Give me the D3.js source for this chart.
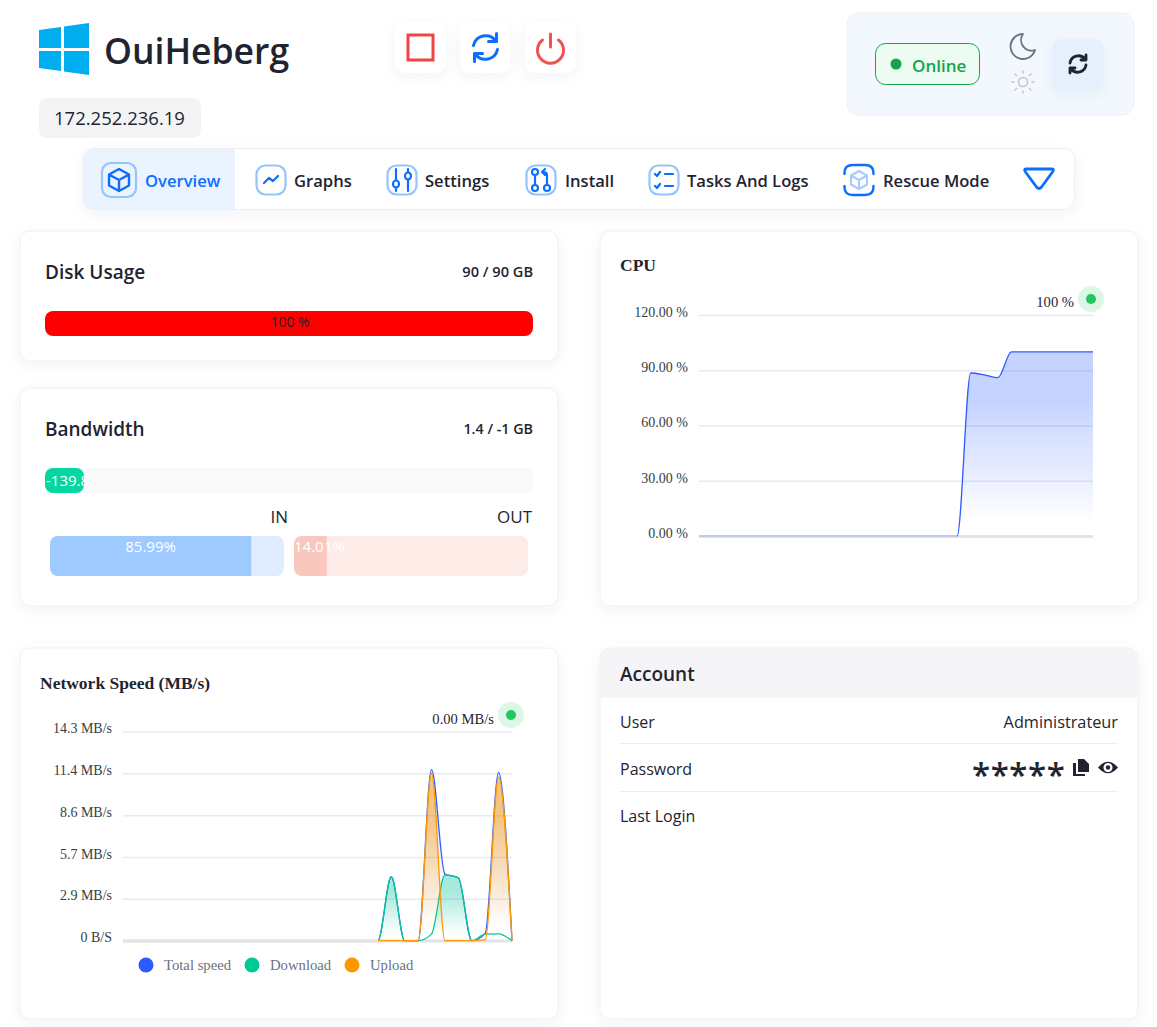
<!DOCTYPE html>
<html>
<head>
<meta charset="utf-8">
<style>
  html, body { margin: 0; padding: 0; background: #fff; }
  svg { display: block; }
  text { font-family: 'Open Sans', 'Noto Sans', sans-serif; fill: #1f2430; }
  .serif { font-family: 'Liberation Serif', serif; }
  .grid line { stroke: #e8eaef; stroke-width: 1.5px; }
  .grid text { font-family: 'Liberation Serif', serif; font-size: 14px; fill: #373d3f; }
  .grid .domain { display: none; }
  .ico { fill: none; stroke-linecap: round; stroke-linejoin: round; }
</style>
</head>
<body>
<script src="https://d3js.org/d3.v7.min.js"></script>
<script>
// chart values
var cpuValues = [0,0,0,0,0,0,0,0,0,0,0,0,0,0,0,0,0,0,0,0,88.5,87.5,86,100,100,100,100,100,100,100];
var cpuTicks = [0,30,60,90,120];
var cpuLabels = ["0.00 %","30.00 %","60.00 %","90.00 %","120.00 %"];

var netTotal    = [0,0,0,0,0,0,0,0,0,0,0,0,0,0,0,0,0,0,0,0,4.37,0,0,11.7,4.55,4.3,0,0.5,11.5,0];
var netDownload = [0,0,0,0,0,0,0,0,0,0,0,0,0,0,0,0,0,0,0,0,4.37,0,0,0.45,4.5,4.3,0,0.45,0.47,0];
var netUpload   = [0,0,0,0,0,0,0,0,0,0,0,0,0,0,0,0,0,0,0,0,0,0,0,11.45,0,0,0,0.05,11.2,0];
var netTicks = [0,2.86,5.72,8.58,11.44,14.3];
var netLabels = ["0 B/S","2.9 MB/s","5.7 MB/s","8.6 MB/s","11.4 MB/s","14.3 MB/s"];
var netNames = ["Total speed","Download","Upload"];
var netColors = ["#2b5cff","#00c896","#ff9800"];

var navNames = ["Overview","Graphs","Settings","Install","Tasks And Logs","Rescue Mode"];
var inShare = 85.99, outShare = 14.01;

var svg = d3.select("body").append("svg").attr("width", 1157).attr("height", 1027);
var defs = svg.append("defs");

var shadow = defs.append("filter").attr("id", "soft").attr("x", "-20%").attr("y", "-20%").attr("width", "140%").attr("height", "150%");
shadow.append("feDropShadow").attr("dx", 0).attr("dy", 4).attr("stdDeviation", 7).attr("flood-color", "#1e3a8a").attr("flood-opacity", 0.05);

function gradient(id, color, top) {
  var g = defs.append("linearGradient").attr("id", id).attr("x1", 0).attr("y1", 0).attr("x2", 0).attr("y2", 1);
  g.append("stop").attr("offset", "0%").attr("stop-color", color).attr("stop-opacity", top);
  g.append("stop").attr("offset", "27%").attr("stop-color", color).attr("stop-opacity", top);
  g.append("stop").attr("offset", "92%").attr("stop-color", color).attr("stop-opacity", 0);
}
gradient("gradCpu", "#2b5cff", 0.27);
gradient("gradTotal", "#2b5cff", 0.1);
gradient("gradDown", "#00c896", 0.32);
gradient("gradUp", "#ff9800", 0.48);

function card(x, y, w, h) {
  return svg.append("rect").attr("x", x).attr("y", y).attr("width", w).attr("height", h).attr("rx", 10)
    .attr("fill", "#fff").attr("stroke", "#eceff4").attr("filter", "url(#soft)");
}
function label(str, x, y, size, weight, color, anchor) {
  return svg.append("text").attr("x", x).attr("y", y).attr("font-size", size).attr("font-weight", weight || 400)
    .style("fill", color || "#1f2430").attr("text-anchor", anchor || "start").text(str);
}
function box(x, y, w, h, r, fill) {
  return svg.append("rect").attr("x", x).attr("y", y).attr("width", w).attr("height", h).attr("rx", r).attr("fill", fill);
}
function icon(d, tx, ty, color, width) {
  return svg.append("path").attr("class", "ico").attr("d", d).attr("transform", "translate(" + tx + "," + ty + ")")
    .attr("stroke", color).attr("stroke-width", width);
}

// header
var logo = ["M0,6 L22,3 L22,24 L0,24Z","M25,2.6 L50,-1 L50,24 L25,24Z","M0,27 L22,27 L22,47 L0,44Z","M25,27 L50,27 L50,51 L25,47.5Z"];
logo.forEach(function (d) {
  svg.append("path").attr("d", d).attr("transform", "translate(39,24)").attr("fill", "#00adef");
});
label("OuiHeberg", 104, 64, 35.5, 600, "#1f2430");
box(39, 98, 162, 40, 8, "#f3f4f6");
label("172.252.236.19", 54, 125, 18.5);

[395, 460, 525].forEach(function (x) {
  box(x, 22, 51, 51, 11, "#fff").attr("filter", "url(#soft)");
});
svg.append("rect").attr("x", 408).attr("y", 35).attr("width", 25).attr("height", 25).attr("fill", "none").attr("stroke", "#ef4444").attr("stroke-width", 3);
var syncPath = "M-12,-2 A12.5,12.5 0 0 1 10,-7 M12,2 A12.5,12.5 0 0 1 -10,7 M11,-14 L11,-6 L3,-6 M-11,14 L-11,6 L-3,6";
icon(syncPath, 485.5, 47.5, "#0d6efd", 3);
icon("M-8,-9 A13,13 0 1 0 8,-9 M0,-15 L0,-2", 550.5, 49, "#ef5350", 3);

// status box
box(847, 13, 287, 102, 12, "#f3f8fe").attr("stroke", "#ecf1f8");
svg.append("rect").attr("x", 875.5).attr("y", 43.5).attr("width", 104).attr("height", 41).attr("rx", 10).attr("fill", "#edfcf2").attr("stroke", "#16a34a");
svg.append("circle").attr("cx", 896).attr("cy", 64).attr("r", 5.5).attr("fill", "#16a34a");
label("Online", 912, 72, 17, 600, "#16a34a");
icon("M0,-12.5 A12.5,12.5 0 1 0 12,3.5 A10.5,10.5 0 0 1 0,-12.5Z", 1023, 46.5, "#6b7280", 1.8);
icon("M-4.5,0 a4.5,4.5 0 1 0 9,0 a4.5,4.5 0 1 0 -9,0 M0,-11 L0,-9 M0,9 L0,11 M-11,0 L-9,0 M9,0 L11,0 M-8,-8 L-6.5,-6.5 M6.5,6.5 L8,8 M-8,8 L-6.5,6.5 M6.5,-6.5 L8,-8", 1023, 82, "#c2c5cc", 1.5);
box(1052, 39, 52, 52, 10, "#e6effc").attr("filter", "url(#soft)");
icon("M-8,-1 A8.5,8.5 0 0 1 7,-5 M8,1 A8.5,8.5 0 0 1 -7,5 M8,-9 L8,-4 L3,-4 M-8,9 L-8,4 L-3,4", 1078, 64, "#1f2430", 2.8);

// nav bar
card(83.5, 148.5, 991, 61);
svg.append("path").attr("d", "M94,149 H235 V209 H94 Q84,209 84,199 V159 Q84,149 94,149Z").attr("fill", "#ebf3fe");
var navTextX = [145, 294, 425, 565, 687, 883];
var navIconX = [119, 271, 402, 541, 664, 859];
navNames.forEach(function (name, i) {
  label(name, navTextX[i], 187, 16.6, 600, i == 0 ? "#0d6efd" : "#1f2430");
  if (i == 5) return;
  var s = i == 0 ? 34 : 29;
  svg.append("rect").attr("x", navIconX[i] - s / 2).attr("y", 180 - s / 2).attr("width", s).attr("height", s).attr("rx", 9)
    .attr("fill", "none").attr("stroke", "#93c5fd").attr("stroke-width", 2.2);
});
// rescue mode box only has its top and bottom brackets
icon("M-14.5,-6 V-7 Q-14.5,-15 -6,-15 H6 Q14.5,-15 14.5,-7 V-6 M-14.5,6 V7 Q-14.5,15 -6,15 H6 Q14.5,15 14.5,7 V6", 859, 180, "#0d6efd", 2.4);
var cube = "M0,-11 L10,-5.5 L10,5.5 L0,11 L-10,5.5 L-10,-5.5Z M-10,-5.5 L0,0 L10,-5.5 M0,0 L0,11";
icon(cube, 119, 180, "#0d6efd", 2.4);
icon("M-7,3 L-2,-2 L2,1 L7,-4", 271, 180, "#0d6efd", 2.2);
icon("M-6,-11 L-6,0 M-6,8 L-6,11 M6,-11 L6,-8 M6,0 L6,11 M-9,4 a3,3.5 0 1 0 6,0 a3,3.5 0 1 0 -6,0 M3,-4 a3,3.5 0 1 0 6,0 a3,3.5 0 1 0 -6,0", 402, 180, "#0d6efd", 2.2);
icon("M-6,-5 L-6,5 M-9,-8 a3,3 0 1 0 6,0 a3,3 0 1 0 -6,0 M-9,8 a3,3 0 1 0 6,0 a3,3 0 1 0 -6,0 M3,8 a3,3 0 1 0 6,0 a3,3 0 1 0 -6,0 M6,5 L6,-5 Q6,-8 2,-8 M4,-11 L1,-8 L4,-5", 541, 180, "#0d6efd", 2.2);
icon("M-9,-6 L-7,-4 L-4,-8 M-9,6 L-7,8 L-4,4 M1,-6 L9,-6 M1,6 L9,6", 664, 180, "#0d6efd", 2.2);
icon("M0,-9 L8,-4.5 L8,4.5 L0,9 L-8,4.5 L-8,-4.5Z M-8,-4.5 L0,0 L8,-4.5 M0,0 L0,9", 859, 180, "#a9cdfb", 2.2);
icon("M-13,-10 L13,-10 Q15.5,-10 13.5,-7 L2.5,8 Q0,11 -2.5,8 L-13.5,-7 Q-15.5,-10 -13,-10Z", 1039, 179, "#0d6efd", 2.8);

// disk usage
card(20, 231, 538, 130);
label("Disk Usage", 45, 279, 19, 600);
label("90 / 90 GB", 533, 277, 14.6, 600, "#1f2430", "end");
box(45, 311, 488, 25, 8, "#ff0000");
label("100 %", 290, 327, 14, 400, "#212529", "middle");

// bandwidth
card(20, 388, 538, 218);
label("Bandwidth", 45, 436, 19, 600);
label("1.4 / -1 GB", 533, 434, 14.3, 600, "#1f2430", "end");
box(45, 468, 488, 25, 8, "#f8f9fa");
box(45, 468, 39, 25, 8, "#06d6a0");
label("-139.87", 46, 486, 15, 400, "#fff");
label("IN", 288, 523, 17, 400, "#1f2430", "end");
label("OUT", 532, 523, 17, 400, "#1f2430", "end");

var shareX = d3.scaleLinear().domain([0, 100]).range([0, 234]);
defs.append("clipPath").attr("id", "inClip").append("rect").attr("x", 50).attr("y", 536).attr("width", 234).attr("height", 40).attr("rx", 8);
defs.append("clipPath").attr("id", "outClip").append("rect").attr("x", 294).attr("y", 536).attr("width", 234).attr("height", 40).attr("rx", 8);
box(50, 536, 234, 40, 8, "#e0ecff");
svg.append("rect").attr("clip-path", "url(#inClip)").attr("x", 50).attr("y", 536).attr("width", shareX(inShare)).attr("height", 40).attr("fill", "#9fcaff");
label(inShare + "%", 50 + shareX(inShare) / 2, 552, 15, 400, "#fff", "middle");
box(294, 536, 234, 40, 8, "#fcebe7");
svg.append("rect").attr("clip-path", "url(#outClip)").attr("x", 294).attr("y", 536).attr("width", shareX(outShare)).attr("height", 40).attr("fill", "#f9c7bd");
label(outShare + "%", 294, 552, 15, 400, "#fff");

// line charts
function axisY(y, left, width, ticks, labels, dy) {
  var g = svg.append("g").attr("class", "grid").attr("transform", "translate(" + left + ",0)")
    .call(d3.axisLeft(y).tickValues(ticks).tickSize(-width).tickPadding(11)
      .tickFormat(function (d, i) { return labels[i]; }));
  g.selectAll("text").attr("dy", dy);
  return g;
}
function series(x, y, values, color, fill, strokeW) {
  var area = d3.area().curve(d3.curveMonotoneX).x(function (d, i) { return x(i); }).y0(y(0)).y1(function (d) { return y(d); });
  var line = d3.line().curve(d3.curveMonotoneX).x(function (d, i) { return x(i); }).y(function (d) { return y(d); });
  svg.append("path").attr("d", area(values)).attr("fill", "url(#" + fill + ")");
  svg.append("path").attr("d", line(values)).attr("fill", "none").attr("stroke", color).attr("stroke-width", strokeW);
}
function baseline(x0, x1, y, opacity) {
  svg.append("line").attr("x1", x0).attr("x2", x1).attr("y1", y).attr("y2", y).attr("stroke", "#e3e4e8").attr("stroke-width", 3).attr("opacity", opacity);
}
function liveDot(x, y) {
  svg.append("circle").attr("cx", x).attr("cy", y).attr("r", 13).attr("fill", "#dcf7e5");
  svg.append("circle").attr("cx", x).attr("cy", y).attr("r", 5).attr("fill", "#22c55e");
}

// cpu
card(600, 231, 538, 375);
label("CPU", 620, 271, 17.5, 700).attr("class", "serif");
var cpuX = d3.scaleLinear().domain([0, cpuValues.length - 1]).range([699, 1093]);
var cpuY = d3.scaleLinear().domain([0, 120]).range([536, 315]);
axisY(cpuY, 699, 394, cpuTicks, cpuLabels, "0.1em");
baseline(699, 1093, 536.5, 1);
series(cpuX, cpuY, cpuValues, "#2b5cff", "gradCpu", 1.3);
baseline(699, 957, 536.5, 0.75);
label("100 %", 1074, 307, 14.6, 400, "#1f2430", "end").attr("class", "serif");
liveDot(1091, 299);

// network
card(20, 648, 538, 371);
label("Network Speed (MB/s)", 40, 689, 17.5, 700).attr("class", "serif");
var netX = d3.scaleLinear().domain([0, netTotal.length - 1]).range([123, 512]);
var netY = d3.scaleLinear().domain([0, 14.3]).range([940.7, 731.5]);
axisY(netY, 123, 389, netTicks, netLabels, "0.08em");
baseline(123, 512, 941, 1);
series(netX, netY, netTotal, netColors[0], "gradTotal", 1.3);
series(netX, netY, netDownload, netColors[1], "gradDown", 1.3);
series(netX, netY, netUpload, netColors[2], "gradUp", 1.3);
baseline(123, 378, 941, 1);
label("0.00 MB/s", 494, 724, 14.6, 400, "#1f2430", "end").attr("class", "serif");
liveDot(511, 715);

var legendDot = [146, 252, 352], legendText = [164, 270, 370];
netNames.forEach(function (name, i) {
  svg.append("circle").attr("cx", legendDot[i]).attr("cy", 965).attr("r", 7.5).attr("fill", netColors[i]);
  label(name, legendText[i], 970, 14.7, 400, "#6b7280").attr("class", "serif");
});

// account
card(600, 648, 538, 371);
svg.append("path").attr("d", "M600.5,698 V658 Q600.5,648.5 610,648.5 H1128 Q1138,648.5 1138,658 V698Z").attr("fill", "#f5f5f7");
label("Account", 620, 681, 19, 600);
label("User", 620, 728, 16);
label("Administrateur", 1118, 728, 16.3, 400, "#1f2430", "end");
svg.append("line").attr("x1", 620).attr("x2", 1118).attr("y1", 743.5).attr("y2", 743.5).attr("stroke", "#eceef1");
label("Password", 620, 775, 16);
label("*****", 972, 787, 33, 600, "#1f2430").attr("letter-spacing", 0.6);
svg.append("line").attr("x1", 620).attr("x2", 1118).attr("y1", 791.5).attr("y2", 791.5).attr("stroke", "#eceef1");
label("Last Login", 620, 822, 16);
svg.append("path").attr("d", "M1078,759 H1084 L1089,764 V772 H1078Z M1073,763 H1076 V774 H1085 V776 H1073Z").attr("fill", "#1f2430");
svg.append("path").attr("d", "M1098,767.5 Q1108,756 1118,767.5 Q1108,779 1098,767.5Z M1108,763 a4.5,4.5 0 1 0 0.01,0Z").attr("fill", "#1f2430").attr("fill-rule", "evenodd");
svg.append("circle").attr("cx", 1108).attr("cy", 767.5).attr("r", 2.2).attr("fill", "#1f2430");
</script>
</body>
</html>
